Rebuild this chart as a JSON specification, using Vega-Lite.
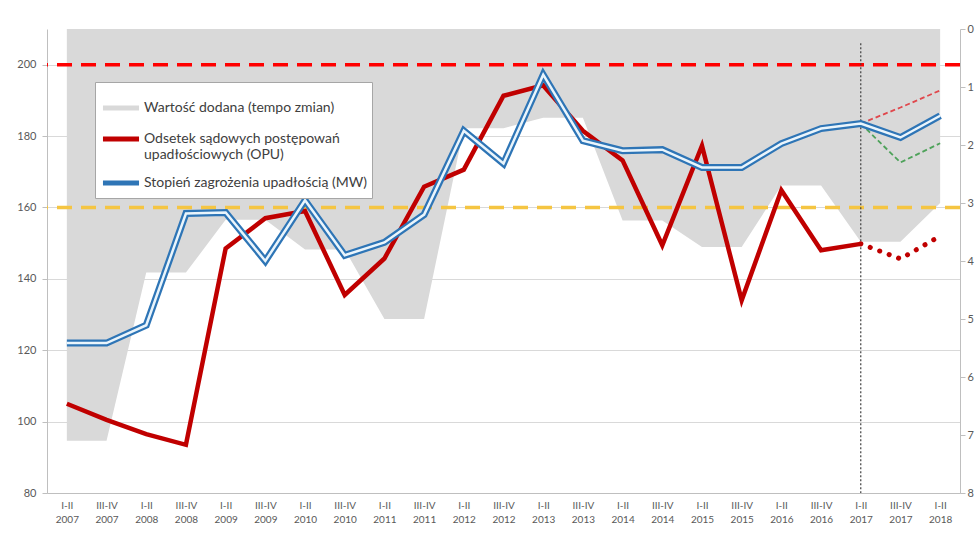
{
  "$schema": "https://vega.github.io/schema/vega-lite/v6.json",
  "width": 913,
  "height": 464,
  "autosize": {"type": "none"},
  "padding": {"left": 47, "top": 29, "right": 19, "bottom": 46},
  "background": "white",
  "config": {"font": "Lato", "view": {"stroke": null}},
  "datasets": {
    "gray": [
      {"p": "I-II 2007", "r": 7.1}, {"p": "III-IV 2007", "r": 7.1},
      {"p": "I-II 2008", "r": 4.2}, {"p": "III-IV 2008", "r": 4.2},
      {"p": "I-II 2009", "r": 3.29}, {"p": "III-IV 2009", "r": 3.29},
      {"p": "I-II 2010", "r": 3.8}, {"p": "III-IV 2010", "r": 3.8},
      {"p": "I-II 2011", "r": 5.0}, {"p": "III-IV 2011", "r": 5.0},
      {"p": "I-II 2012", "r": 1.71}, {"p": "III-IV 2012", "r": 1.71},
      {"p": "I-II 2013", "r": 1.53}, {"p": "III-IV 2013", "r": 1.53},
      {"p": "I-II 2014", "r": 3.3}, {"p": "III-IV 2014", "r": 3.3},
      {"p": "I-II 2015", "r": 3.76}, {"p": "III-IV 2015", "r": 3.76},
      {"p": "I-II 2016", "r": 2.7}, {"p": "III-IV 2016", "r": 2.7},
      {"p": "I-II 2017", "r": 3.67}, {"p": "III-IV 2017", "r": 3.67},
      {"p": "I-II 2018", "r": 3.0}
    ],
    "opu": [
      {"p": "I-II 2007", "v": 105}, {"p": "III-IV 2007", "v": 100.5},
      {"p": "I-II 2008", "v": 96.5}, {"p": "III-IV 2008", "v": 93.5},
      {"p": "I-II 2009", "v": 148.5}, {"p": "III-IV 2009", "v": 157},
      {"p": "I-II 2010", "v": 159}, {"p": "III-IV 2010", "v": 135.5},
      {"p": "I-II 2011", "v": 145.7}, {"p": "III-IV 2011", "v": 165.8},
      {"p": "I-II 2012", "v": 170.6}, {"p": "III-IV 2012", "v": 191.3},
      {"p": "I-II 2013", "v": 194.2}, {"p": "III-IV 2013", "v": 181.5},
      {"p": "I-II 2014", "v": 173.2}, {"p": "III-IV 2014", "v": 149.4},
      {"p": "I-II 2015", "v": 177.3}, {"p": "III-IV 2015", "v": 134},
      {"p": "I-II 2016", "v": 164.8}, {"p": "III-IV 2016", "v": 148},
      {"p": "I-II 2017", "v": 149.8}
    ],
    "opuF": [
      {"p": "I-II 2017", "v": 149.8}, {"p": "III-IV 2017", "v": 145.6},
      {"p": "I-II 2018", "v": 152}
    ],
    "mw": [
      {"p": "I-II 2007", "v": 122}, {"p": "III-IV 2007", "v": 122},
      {"p": "I-II 2008", "v": 127}, {"p": "III-IV 2008", "v": 158.3},
      {"p": "I-II 2009", "v": 158.6}, {"p": "III-IV 2009", "v": 145},
      {"p": "I-II 2010", "v": 162}, {"p": "III-IV 2010", "v": 146.6},
      {"p": "I-II 2011", "v": 150.2}, {"p": "III-IV 2011", "v": 158},
      {"p": "I-II 2012", "v": 181.5}, {"p": "III-IV 2012", "v": 172.3},
      {"p": "I-II 2013", "v": 197.2}, {"p": "III-IV 2013", "v": 178.7},
      {"p": "I-II 2014", "v": 175.9}, {"p": "III-IV 2014", "v": 176.2},
      {"p": "I-II 2015", "v": 171.2}, {"p": "III-IV 2015", "v": 171.2},
      {"p": "I-II 2016", "v": 177.9}, {"p": "III-IV 2016", "v": 182.1},
      {"p": "I-II 2017", "v": 183.5}, {"p": "III-IV 2017", "v": 179.6},
      {"p": "I-II 2018", "v": 185.7}
    ],
    "mwUp": [
      {"p": "I-II 2017", "v": 183.5}, {"p": "III-IV 2017", "v": 188},
      {"p": "I-II 2018", "v": 192.8}
    ],
    "mwDown": [
      {"p": "I-II 2017", "v": 183.5}, {"p": "III-IV 2017", "v": 172.6},
      {"p": "I-II 2018", "v": 178}
    ],
    "one": [{}]
  },
  "layer": [
    {
      "data": {"name": "gray"},
      "mark": {"type": "area", "opacity": 1},
      "encoding": {
        "x": {
          "field": "p", "type": "ordinal",
          "scale": {"type": "point", "padding": 0.5, "domain": ["I-II 2007","III-IV 2007","I-II 2008","III-IV 2008","I-II 2009","III-IV 2009","I-II 2010","III-IV 2010","I-II 2011","III-IV 2011","I-II 2012","III-IV 2012","I-II 2013","III-IV 2013","I-II 2014","III-IV 2014","I-II 2015","III-IV 2015","I-II 2016","III-IV 2016","I-II 2017","III-IV 2017","I-II 2018"]},
          "axis": {"title": null, "labelAngle": 0, "labelExpr": "split(datum.label, ' ')", "labelColor": "#595959", "labelFontSize": 10, "labelLineHeight": 14, "ticks": false, "domainColor": "#bfbfbf", "labelPadding": 7}
        },
        "y": {
          "field": "r", "type": "quantitative",
          "scale": {"domain": [0, 8], "reverse": true, "nice": false, "zero": false},
          "axis": {"orient": "right", "title": null, "values": [0,1,2,3,4,5,6,7,8], "grid": false, "domainColor": "#bfbfbf", "tickColor": "#bfbfbf", "tickSize": 5, "labelColor": "#595959", "labelFontSize": 11}
        },
        "y2": {"datum": 0},
        "color": {
          "datum": "Wartość dodana (tempo zmian)", "type": "nominal",
          "scale": {"domain": ["Wartość dodana (tempo zmian)", "Odsetek sądowych postępowań upadłościowych (OPU)", "Stopień zagrożenia upadłością (MW)"], "range": ["#d9d9d9", "#c00000", "#2e75b6"]},
          "legend": {
            "orient": "none", "legendX": 48, "legendY": 53, "title": null, "direction": "vertical",
            "symbolType": "stroke", "symbolSize": 1300, "symbolStrokeWidth": 5,
            "fillColor": "white", "strokeColor": "#a6a6a6", "padding": 5, "rowPadding": 0,
            "labelFontSize": 14, "labelColor": "#404040", "labelLimit": 400, "labelOffset": 2,
            "labelExpr": "indexof(datum.label, 'Odsetek') == 0 ? ['Odsetek sądowych postępowań', 'upadłościowych (OPU)'] : datum.label",
            "encode": {"symbols": {"update": {"stroke": {"scale": "color", "field": "value"}, "strokeWidth": {"signal": "indexof(datum.value, 'Warto') == 0 ? 10 : 5"}, "fill": {"value": "transparent"}}}}
          }
        }
      }
    },
    {
      "layer": [
        {
          "data": {"name": "one"},
          "mark": {"type": "rule", "color": "#ff0000", "strokeWidth": 3.5, "strokeDash": [15, 9]},
          "encoding": {"y": {"datum": 200, "type": "quantitative", "scale": {"domain": [80, 210], "nice": false, "zero": false}, "axis": {"orient": "left", "title": null, "values": [80,100,120,140,160,180,200], "grid": true, "gridColor": "#d9d9d9", "domainColor": "#bfbfbf", "tickColor": "#bfbfbf", "tickSize": 5, "labelColor": "#595959", "labelFontSize": 11, "labelPadding": 6}}}
        },
        {
          "data": {"name": "one"},
          "mark": {"type": "rule", "color": "#f5c542", "strokeWidth": 3.5, "strokeDash": [15, 9]},
          "encoding": {"y": {"datum": 160, "type": "quantitative"}}
        },
        {
          "data": {"name": "one"},
          "mark": {"type": "rule", "color": "#404040", "strokeWidth": 1.2, "strokeDash": [2, 2]},
          "encoding": {"x": {"datum": "I-II 2017", "type": "ordinal"}, "y": {"datum": 206, "type": "quantitative"}, "y2": {"datum": 80}}
        },
        {
          "data": {"name": "mwUp"},
          "mark": {"type": "line", "color": "#e0474c", "strokeWidth": 1.8, "strokeDash": [5, 3]},
          "encoding": {"x": {"field": "p", "type": "ordinal"}, "y": {"field": "v", "type": "quantitative"}}
        },
        {
          "data": {"name": "mwDown"},
          "mark": {"type": "line", "color": "#4ea25a", "strokeWidth": 1.8, "strokeDash": [5, 3]},
          "encoding": {"x": {"field": "p", "type": "ordinal"}, "y": {"field": "v", "type": "quantitative"}}
        },
        {
          "data": {"name": "opuF"},
          "mark": {"type": "line", "color": "#c00000", "strokeWidth": 5, "strokeDash": [0.1, 10], "strokeCap": "round"},
          "encoding": {"x": {"field": "p", "type": "ordinal"}, "y": {"field": "v", "type": "quantitative"}}
        },
        {
          "data": {"name": "opu"},
          "mark": {"type": "line", "strokeWidth": 4.5, "strokeJoin": "miter"},
          "encoding": {"x": {"field": "p", "type": "ordinal"}, "y": {"field": "v", "type": "quantitative"}, "color": {"datum": "Odsetek sądowych postępowań upadłościowych (OPU)", "type": "nominal"}}
        },
        {
          "data": {"name": "mw"},
          "mark": {"type": "line", "strokeWidth": 7, "strokeJoin": "miter"},
          "encoding": {"x": {"field": "p", "type": "ordinal"}, "y": {"field": "v", "type": "quantitative"}, "color": {"datum": "Stopień zagrożenia upadłością (MW)", "type": "nominal"}}
        },
        {
          "data": {"name": "mw"},
          "mark": {"type": "line", "strokeWidth": 2.5, "color": "#eaf5fc", "strokeJoin": "miter"},
          "encoding": {"x": {"field": "p", "type": "ordinal"}, "y": {"field": "v", "type": "quantitative"}}
        }
      ]
    }
  ],
  "resolve": {"scale": {"y": "independent"}}
}
